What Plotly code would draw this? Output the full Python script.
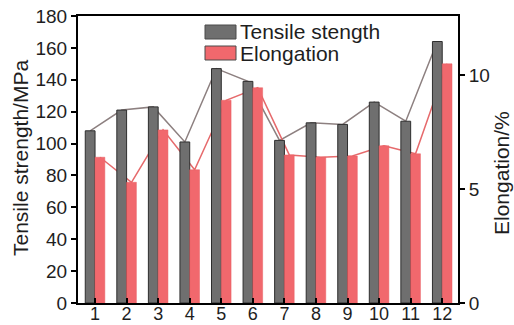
import plotly.graph_objects as go

samples = list(range(1, 13))
tick_labels = [str(s) for s in samples]
tensile_mpa = [108, 121, 123, 101, 147, 139, 102, 113, 112, 126, 114, 164]
elongation_pct = [6.4, 5.3, 7.6, 5.85, 8.9, 9.45, 6.5, 6.4, 6.45, 6.9, 6.55, 10.5]

W = 0.31
FONT = "Liberation Sans, Arial, sans-serif"
TXT = "#1e1e1e"
GRAY = "#6f6f6f"
RED = "#f1686d"

gray_x = [s - W / 2 for s in samples]
red_x = [s + W / 2 for s in samples]

fig = go.Figure()
# connecting lines (drawn below bars)
fig.add_trace(go.Scatter(x=gray_x, y=tensile_mpa, mode="lines",
                         line=dict(color="#8d8080", width=1.5),
                         yaxis="y", showlegend=False, hoverinfo="skip"))
fig.add_trace(go.Scatter(x=red_x, y=elongation_pct, mode="lines",
                         line=dict(color="#e66a6c", width=1.5),
                         yaxis="y2", showlegend=False, hoverinfo="skip"))
# bars
fig.add_trace(go.Bar(x=samples, y=tensile_mpa, width=W, offset=-W,
                     marker=dict(color=GRAY, line=dict(color="#2e2e2e", width=1)),
                     yaxis="y3", name="Tensile stength", showlegend=False))
fig.add_trace(go.Bar(x=samples, y=elongation_pct, width=W, offset=0,
                     marker=dict(color=RED, line=dict(color="#e85f63", width=0.5)),
                     yaxis="y4", name="Elongation", showlegend=False))

L, R, T, B = 78, 458, 16, 303
PW, PH = R - L, B - T


def px(x):
    return (x - L) / PW


def py(y):
    return (B - y) / PH


shapes = []
annotations = []
legend_items = [("Tensile stength", GRAY, 25, 39), ("Elongation", RED, 46, 60)]
for text, col, y0, y1 in legend_items:
    shapes.append(dict(type="rect", xref="paper", yref="paper",
                       x0=px(205), x1=px(236), y0=py(y1), y1=py(y0),
                       fillcolor=col, line=dict(color="#4a4a4a", width=1)))
    annotations.append(dict(xref="paper", yref="paper", x=px(238), y=py((y0 + y1) / 2),
                            text=text, showarrow=False, xanchor="left", yanchor="middle",
                            font=dict(family=FONT, size=21, color=TXT)))

# axis titles
annotations.append(dict(xref="paper", yref="paper", x=px(20), y=py(158),
                        text="Tensile strength/MPa", textangle=-90, showarrow=False,
                        xanchor="center", yanchor="middle",
                        font=dict(family=FONT, size=21, color=TXT)))
annotations.append(dict(xref="paper", yref="paper", x=px(502), y=py(173),
                        text="Elongation/%", textangle=-90, showarrow=False,
                        xanchor="center", yanchor="middle",
                        font=dict(family=FONT, size=21, color=TXT)))

axis_common = dict(showgrid=False, zeroline=False, showline=True, linecolor="black",
                   linewidth=2, tickcolor="black", tickwidth=1.5, ticklen=5,
                   automargin=False,
                   tickfont=dict(family=FONT, size=19, color=TXT))

fig.update_layout(
    width=514, height=325,
    margin=dict(l=L, r=514 - R, t=T, b=325 - B),
    paper_bgcolor="white", plot_bgcolor="white",
    showlegend=False,
    shapes=shapes, annotations=annotations,
    xaxis=dict(range=[0.46, 12.5], tickvals=samples, ticktext=tick_labels,
               ticks="inside", mirror=True, ticklabelstandoff=-7,
               **{**axis_common, "tickfont": dict(family=FONT, size=18, color=TXT)}),
    yaxis=dict(range=[0, 180], dtick=20, ticks="outside", **axis_common),
    yaxis2=dict(range=[0, 12.6], tickvals=[0, 5, 10], ticks="outside",
                overlaying="y", side="right", **axis_common),
    yaxis3=dict(range=[0, 180], overlaying="y", visible=False),
    yaxis4=dict(range=[0, 12.6], overlaying="y", visible=False),
)

fig.write_html("out.html")
